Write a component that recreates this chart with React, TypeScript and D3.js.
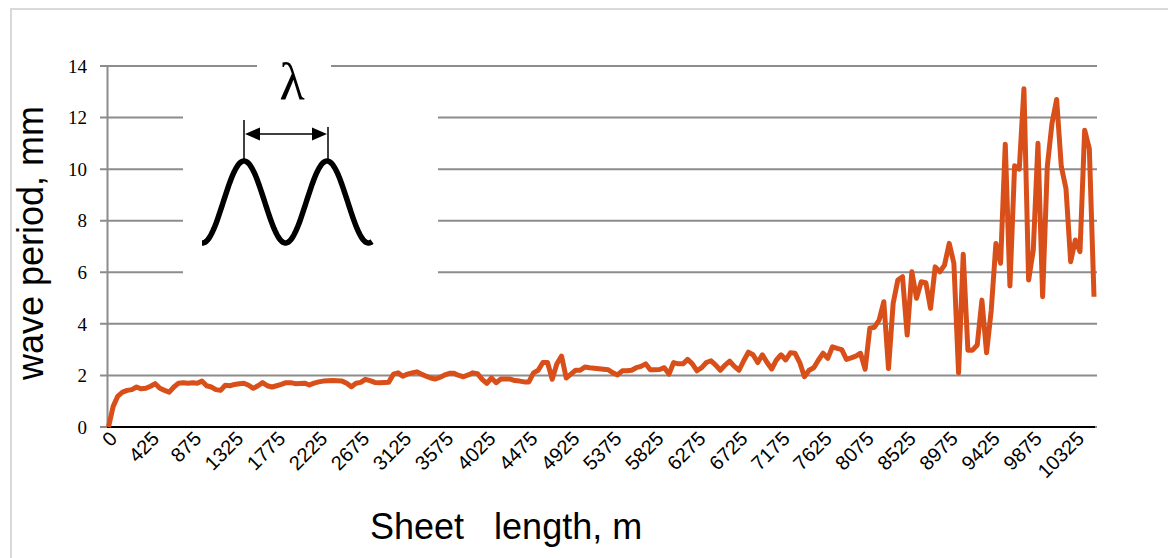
import React from 'react';
import * as d3 from 'd3';

// Category axis: sheet length, m (first 0, then 25, 75, 125 ...)
const categories: number[] = d3.range(212).map((i) => (i === 0 ? 0 : 25 + 50 * (i - 1)));

// Wave period, mm
const waveValues: number[] = [
  0, 0.8, 1.2, 1.35, 1.42, 1.45, 1.55, 1.48, 1.5, 1.58,
  1.68, 1.5, 1.42, 1.35, 1.55, 1.7, 1.72, 1.7, 1.72, 1.7,
  1.78, 1.6, 1.55, 1.45, 1.42, 1.62, 1.6, 1.65, 1.68, 1.7,
  1.62, 1.5, 1.6, 1.72, 1.6, 1.55, 1.6, 1.65, 1.72, 1.72,
  1.68, 1.69, 1.7, 1.63, 1.7, 1.75, 1.78, 1.79, 1.8, 1.79,
  1.78, 1.7, 1.56, 1.7, 1.73, 1.85, 1.8, 1.73, 1.72, 1.73,
  1.74, 2.05, 2.1, 1.97, 2.05, 2.1, 2.14, 2.05, 1.97, 1.9,
  1.86, 1.93, 2.02, 2.08, 2.08, 2.0, 1.95, 2.02, 2.1, 2.07,
  1.85, 1.69, 1.9, 1.72, 1.86, 1.86, 1.86, 1.8, 1.78, 1.75,
  1.75, 2.1, 2.2, 2.5, 2.5, 1.85, 2.45, 2.75, 1.9, 2.05,
  2.2, 2.2, 2.33, 2.3, 2.28, 2.26, 2.24, 2.22, 2.1, 2.02,
  2.18, 2.18, 2.2, 2.3, 2.35, 2.45, 2.22, 2.22, 2.23, 2.3,
  2.05, 2.5, 2.45, 2.45, 2.62, 2.45, 2.18, 2.3, 2.5, 2.57,
  2.4, 2.2, 2.4, 2.55, 2.35, 2.2, 2.57, 2.9, 2.8, 2.5,
  2.8, 2.5, 2.25, 2.6, 2.8, 2.6, 2.88, 2.86, 2.5, 1.95,
  2.2, 2.3, 2.6, 2.86, 2.66, 3.11, 3.05, 3.0, 2.62, 2.68,
  2.75, 2.86, 2.24, 3.83, 3.87, 4.15, 4.86, 2.27, 4.8, 5.7,
  5.83, 3.57, 6.02, 4.99, 5.63, 5.6, 4.6, 6.21, 6.02, 6.28,
  7.12, 6.35, 2.1, 6.7, 2.98, 2.98, 3.18, 4.92, 2.88, 4.53,
  7.12, 6.35, 10.97, 5.47, 10.13, 10.0, 13.12, 5.7, 6.86, 11.0,
  5.05, 10.1, 11.77, 12.7, 10.1, 9.25, 6.41, 7.25, 6.8, 11.51,
  10.8, 5.05,
];

const yTicks: number[] = [0, 2, 4, 6, 8, 10, 12, 14];
const labelStep = 9;
const yTitle = 'wave period, mm';
const xTitle = 'Sheet   length, m';
const lambdaLabel = 'λ';

const W = 1168;
const H = 558;
const LINE_COLOR = '#d94f1a';
const GRID_COLOR = '#8c8c8c';

export default function App() {
  const idx = d3.range(waveValues.length);
  const x = d3.scalePoint<number>().domain(idx).range([108.5, 1094]);
  const y = d3.scaleLinear().domain([0, 14]).range([427, 66]);

  const linePath = d3
    .line<number>()
    .x((_, i) => x(i) as number)
    .y((d) => y(d))(waveValues) as string;

  // inset sketch: a sine wave
  const waveX = d3.range(202, 372.5, 1);
  const sinePath = d3
    .line<number>()
    .x((d) => d)
    .y((d) => 202 - 41 * Math.cos((2 * Math.PI * (d - 244)) / 83))(waveX) as string;

  return (
    <svg
      width={W}
      height={H}
      style={{ position: 'absolute', left: 0, top: 0, background: '#fff' }}
    >
      <rect x={0} y={0} width={W} height={H} fill="#fff" />
      <rect x={11} y={9} width={W + 10} height={H + 10} fill="none" stroke="#d9d9d9" strokeWidth={2} />

      {/* gridlines */}
      {yTicks.map((t) => (
        <line
          key={'g' + t}
          x1={100}
          x2={1097}
          y1={y(t)}
          y2={y(t)}
          stroke={GRID_COLOR}
          strokeWidth={2}
        />
      ))}
      {/* y axis */}
      <line x1={107.5} x2={107.5} y1={y(14)} y2={y(0)} stroke={GRID_COLOR} strokeWidth={2} />
      {/* x axis */}
      <line x1={107} x2={1095} y1={y(0)} y2={y(0)} stroke="#000" strokeWidth={2} />

      {/* y tick labels */}
      {yTicks.map((t) => (
        <text
          key={'yl' + t}
          x={87}
          y={y(t)}
          dy="0.35em"
          textAnchor="end"
          fontFamily="'Liberation Serif', 'Times New Roman', serif"
          fontSize={19}
          fill="#000"
        >
          {t}
        </text>
      ))}

      {/* x tick labels */}
      {idx
        .filter((i) => i % labelStep === 0)
        .map((i) => (
          <text
            key={'xl' + i}
            transform={`translate(${(x(i) as number) + 5},${435}) rotate(-45)`}
            textAnchor="end"
            dy="0.35em"
            fontFamily="'Liberation Sans', Arial, sans-serif"
            fontSize={20}
            fill="#000"
          >
            {categories[i]}
          </text>
        ))}

      {/* inset */}
      <rect x={183} y={104} width={255} height={182} fill="#fff" />
      <rect x={257} y={48} width={74} height={58} fill="#fff" />
      <text
        x={292}
        y={99}
        textAnchor="middle"
        fontFamily="'Liberation Serif', 'Times New Roman', serif"
        fontSize={52}
        fill="#000"
      >
        {lambdaLabel}
      </text>
      <line x1={244} x2={244} y1={120} y2={160} stroke="#000" strokeWidth={1.5} />
      <line x1={328} x2={328} y1={127} y2={160} stroke="#000" strokeWidth={1.5} />
      <line x1={250} x2={322} y1={134} y2={134} stroke="#000" strokeWidth={1.5} />
      <path d="M245,134 L260,127.5 L260,140.5 Z" fill="#000" />
      <path d="M327,134 L312,127.5 L312,140.5 Z" fill="#000" />
      <path d={sinePath} fill="none" stroke="#000" strokeWidth={5.5} strokeLinecap="butt" />

      {/* data line */}
      <path d={linePath} fill="none" stroke={LINE_COLOR} strokeWidth={5} strokeLinejoin="round" />

      {/* axis titles */}
      <text
        transform={`translate(43,243) rotate(-90)`}
        textAnchor="middle"
        fontFamily="'Liberation Sans', Arial, sans-serif"
        fontSize={36}
        fill="#000"
      >
        {yTitle}
      </text>
      <text
        x={370}
        y={539}
        fontFamily="'Liberation Sans', Arial, sans-serif"
        fontSize={36}
        fill="#000"
        style={{ whiteSpace: 'pre' }}
        xmlSpace="preserve"
      >
        {xTitle}
      </text>
    </svg>
  );
}
